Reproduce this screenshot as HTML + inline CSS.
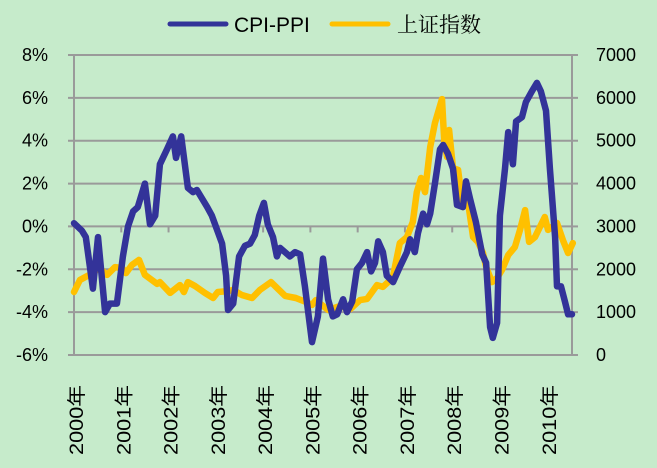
<!DOCTYPE html>
<html><head><meta charset="utf-8">
<style>
body{margin:0;background:#c6ebcb;}
svg{display:block;font-family:"Liberation Sans","Noto Sans CJK SC",sans-serif;}
</style></head>
<body>
<svg id="chart" width="657" height="468" viewBox="0 0 657 468" xmlns="http://www.w3.org/2000/svg">
<rect x="0" y="0" width="657" height="468" fill="#c6ebcb"/>
<g id="grid"></g><g id="axes"></g><g id="series"></g>
<g>
<line x1="170" y1="24" x2="226" y2="24" stroke="#333399" stroke-width="5" stroke-linecap="round"/>
<text x="234" y="32" font-size="21" fill="#000">CPI-PPI</text>
<line x1="332" y1="24" x2="388" y2="24" stroke="#ffc000" stroke-width="5" stroke-linecap="round"/>
<text x="397" y="32" font-size="21" fill="#000" font-family="'Noto Serif CJK SC',serif">上证指数</text>
</g>
</svg>
<script>
const leftTicks=[8,6,4,2,0,-2,-4,-6];
const rightTicks=[7000,6000,5000,4000,3000,2000,1000,0];
const years=["2000年","2001年","2002年","2003年","2004年","2005年","2006年","2007年","2008年","2009年","2010年"];
const cpiMonths=[0,2,3,4.8,6.1,7.9,9.1,10.9,12.4,13.7,15,16.2,18,19.3,20.6,21.8,23.6,25.1,25.9,27.2,28.9,30.2,31.2,33.8,35,37.6,38.6,39.1,40.4,41.9,43.4,44.7,45.9,47,48.2,49.2,50.5,51.5,52.3,54.8,56.1,57.4,58.6,60.4,61.9,63.2,64.5,65.7,66.8,68.3,69.3,70.6,71.8,73.1,74.4,75.4,76.4,77.2,78.4,79.4,81,82.7,84.5,85.3,86.5,87.3,88.6,89.6,90.4,91.6,92.9,93.7,94.9,96.2,97.2,98.7,99.5,100.5,102,103.6,104.6,105.6,106.3,107.4,108.1,109.4,110.2,111.4,112.2,113.7,114.7,116.2,117.5,118.5,119.8,120.8,122.1,122.6,123.6,124.6,125.4,126.4];
const cpiValues=[0.15,-0.2,-0.5,-2.9,-0.5,-4.0,-3.6,-3.6,-1.4,0,0.7,0.9,2.0,0.1,0.5,2.9,3.6,4.2,3.2,4.2,1.8,1.6,1.7,0.9,0.5,-0.8,-2.3,-3.9,-3.6,-1.4,-0.9,-0.8,-0.4,0.5,1.1,0.1,-0.5,-1.4,-1.0,-1.4,-1.2,-1.3,-2.8,-5.4,-4.2,-1.5,-3.4,-4.2,-4.1,-3.4,-4.0,-3.5,-2.0,-1.7,-1.2,-2.1,-1.7,-0.7,-1.2,-2.3,-2.6,-1.9,-1.2,-0.6,-1.2,-0.3,0.6,0.1,0.6,2.0,3.6,3.8,3.4,2.7,1.0,0.9,2.1,1.3,0.2,-1.3,-1.7,-4.7,-5.2,-4.5,0.5,2.7,4.4,2.9,4.9,5.1,5.8,6.3,6.7,6.3,5.4,2.7,-0.5,-2.8,-2.8,-3.5,-4.1,-4.1];
const szMonths=[0,1.5,3.3,4.8,6.3,8.4,10.4,12.2,13.2,14.7,16.5,18,21.1,21.8,24.4,26.9,27.9,28.9,30.7,33.2,35.3,36.5,39.1,40.4,42.6,45.2,47.2,50,51.8,53.6,56.3,58.8,60.4,61.4,64.5,67.5,70.1,72.6,74.4,76.9,78.4,80.9,82.7,84.5,86,87,88.1,89.1,90.4,91.6,93.4,94,94.7,95.2,96.2,97.5,98.7,100,101.3,102.5,103.8,104.6,106.1,107.4,108.6,110.2,111.9,113.2,114.5,115.5,117,119.5,120.3,122.6,124.1,125.4,126.6];
const szValues=[1470,1750,1840,1910,2030,1870,2050,2030,1910,2100,2220,1870,1660,1700,1450,1630,1470,1700,1610,1450,1330,1470,1490,1520,1400,1330,1520,1700,1540,1380,1330,1240,1170,1280,1050,1140,1070,1280,1310,1630,1590,1800,2610,2750,3100,3800,4130,3800,4850,5410,5970,4970,4620,5250,4360,4320,3450,3570,2750,2640,2380,2050,1700,1800,1980,2330,2520,2920,3380,2640,2750,3220,2920,3080,2680,2380,2610];

const NS="http://www.w3.org/2000/svg";
const X0=74,X1=572,Y0=55,Y1=355,MMAX=126.4;
function xm(m){return X0+m*(X1-X0)/MMAX;}
function yl(v){return Y1-(v+6)*(Y1-Y0)/14;}
function yr(v){return Y1-v*(Y1-Y0)/7000;}
function mk(tag,attrs,parent){const e=document.createElementNS(NS,tag);for(const k in attrs)e.setAttribute(k,attrs[k]);parent.appendChild(e);return e;}
const grid=document.getElementById('grid'),axes=document.getElementById('axes'),series=document.getElementById('series');
leftTicks.forEach(t=>{
  const y=yl(t);
  const l=mk('line',{x1:X0-6,x2:X1,y1:y,y2:y,stroke:'#9a9a9a','stroke-width':2},grid);
  
  
  const tx=mk('text',{x:48,y:y+6,'font-size':18,'text-anchor':'end',fill:'#000'},axes);
  tx.textContent=t+'%';
  
  
});
rightTicks.forEach(t=>{
  const y=yr(t);
  const tk=mk('line',{x1:X1,x2:X1+6,y1:y,y2:y,stroke:'#9a9a9a','stroke-width':2},grid);
  
  
  const tx=mk('text',{x:596,y:y+6,'font-size':18,fill:'#000'},axes);
  tx.textContent=t;
  
  
});
const la=mk('line',{x1:X0,x2:X0,y1:Y0,y2:Y1,stroke:'#9a9a9a','stroke-width':2},axes);


const ra=mk('line',{x1:X1,x2:X1,y1:Y0,y2:Y1,stroke:'#9a9a9a','stroke-width':2},axes);


years.forEach((yv,i)=>{
  const x=xm(i*12);
  const tk=mk('line',{x1:x,x2:x,y1:yl(0),y2:yl(0)+6,stroke:'#9a9a9a','stroke-width':2},axes);
  
  
  const tx=mk('text',{x:0,y:0,'font-size':19,fill:'#000',textLength:70,lengthAdjust:'spacingAndGlyphs',transform:`translate(${x+9},455) rotate(-90)`},axes);
  tx.textContent=yv;
  
  
});
function line(ms,vs,yf,color,name){
  const d=ms.map((m,i)=>(i?'L':'M')+xm(m).toFixed(1)+' '+yf(vs[i]).toFixed(1)).join(' ');
  const p=mk('path',{d:d,fill:'none',stroke:color,'stroke-width':6.5,'stroke-linejoin':'round','stroke-linecap':'round'},series);
  
  
}
line(szMonths,szValues,yr,'#ffc000','szzs-line');
line(cpiMonths,cpiValues,yl,'#333399','cpi-ppi-line');
</script>
</body></html>
